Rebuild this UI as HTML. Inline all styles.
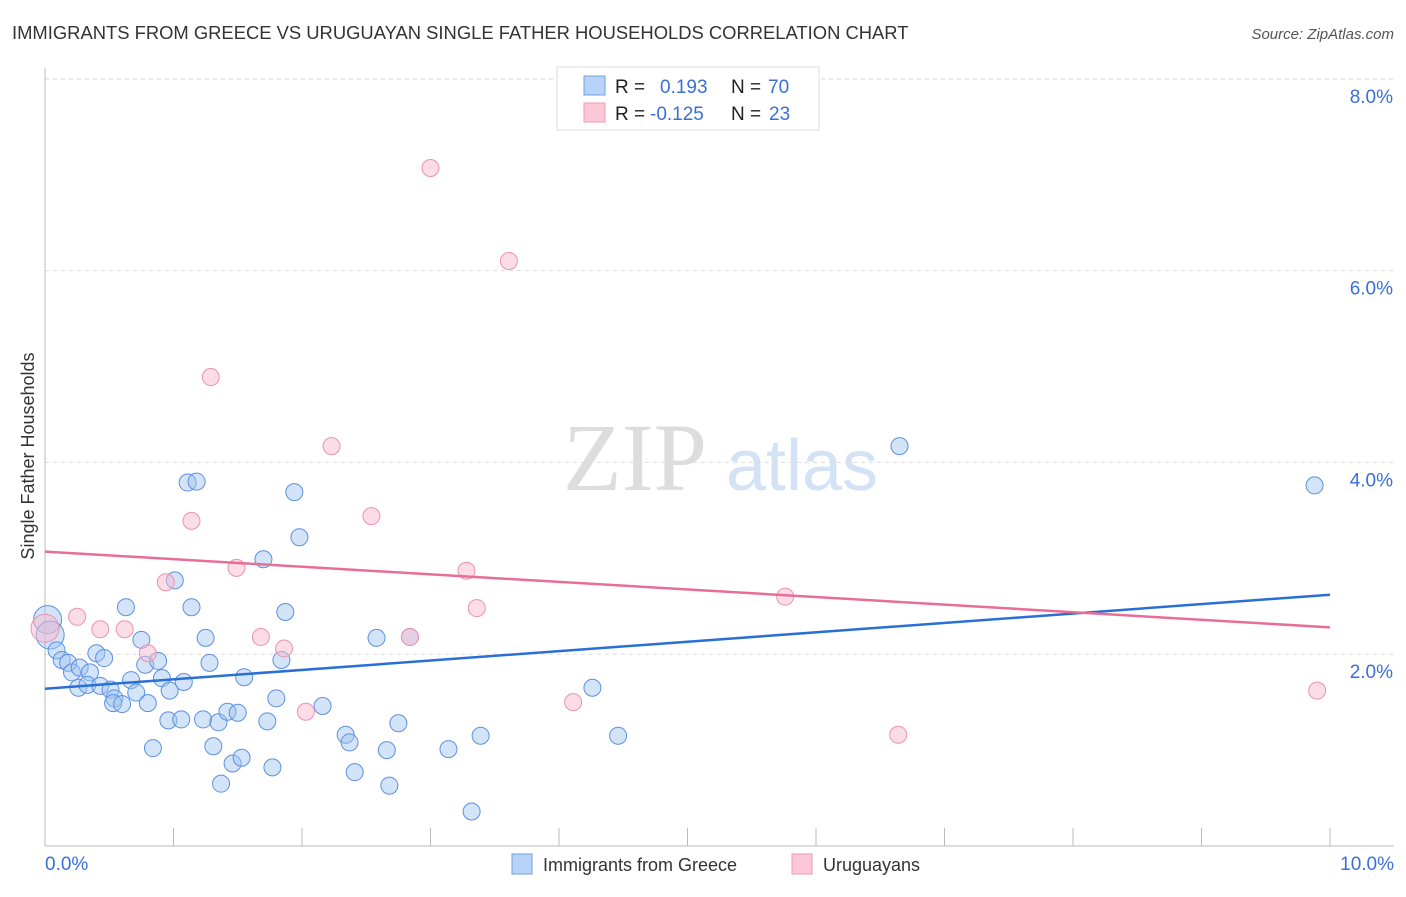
<!DOCTYPE html>
<html><head><meta charset="utf-8"><style>
body{margin:0;background:#fff;font-family:"Liberation Sans",sans-serif}
</style></head><body>
<svg width="1406" height="892" font-family="Liberation Sans, sans-serif">
<text x="12" y="39" font-size="18.4" fill="#333">IMMIGRANTS FROM GREECE VS URUGUAYAN SINGLE FATHER HOUSEHOLDS CORRELATION CHART</text>
<text x="1394" y="39" font-size="15" fill="#555" font-style="italic" text-anchor="end">Source: ZipAtlas.com</text>
<g>
<text x="635" y="490" font-size="96" fill="#ddd" font-family="Liberation Serif, serif" text-anchor="middle">ZIP</text>
<text x="802" y="490" font-size="72" fill="#d4e2f6" text-anchor="middle">atlas</text>
</g>
<g id="grid"></g>
<g id="axes"></g>
<g id="marks"></g>
<text transform="translate(34,456) rotate(-90)" font-size="18" fill="#333" text-anchor="middle">Single Father Households</text>
<g>
<rect x="557" y="67" width="262" height="63" fill="#fff" stroke="#ddd"/>
<rect x="584" y="76" width="21" height="19" fill="#b7d3f7" stroke="#6fa0e6"/>
<rect x="584" y="103" width="21" height="19" fill="#fcc8d7" stroke="#ef9ab4"/>
<text x="615" y="93" font-size="19" fill="#222">R =</text>
<text x="660" y="93" font-size="19" fill="#3a6fd8">0.193</text>
<text x="731" y="93" font-size="19" fill="#222">N =</text>
<text x="768" y="93" font-size="19" fill="#3a6fd8">70</text>
<text x="615" y="120" font-size="19" fill="#222">R =</text>
<text x="650" y="120" font-size="19" fill="#3a6fd8">-0.125</text>
<text x="731" y="120" font-size="19" fill="#222">N =</text>
<text x="769" y="120" font-size="19" fill="#3a6fd8">23</text>
</g>
<g>
<rect x="512" y="854" width="20" height="20" fill="#b7d3f7" stroke="#6fa0e6"/>
<text x="543" y="871" font-size="18" fill="#333">Immigrants from Greece</text>
<rect x="792" y="854" width="20" height="20" fill="#fcc8d7" stroke="#ef9ab4"/>
<text x="823" y="871" font-size="18" fill="#333">Uruguayans</text>
</g>
</svg>
<script>
const blueX=[0.02,0.04,0.09,0.13,0.18,0.21,0.27,0.35,0.26,0.33,0.40,0.46,0.43,0.51,0.54,0.53,0.60,0.63,0.67,0.71,0.75,0.78,0.80,0.84,0.88,0.91,0.96,0.97,1.01,1.06,1.08,1.11,1.18,1.14,1.25,1.28,1.23,1.31,1.37,1.35,1.42,1.46,1.50,1.53,1.55,1.70,1.73,1.77,1.80,1.84,1.87,1.94,1.98,2.16,2.34,2.37,2.41,2.58,2.66,2.68,2.75,2.84,3.14,3.32,3.39,4.26,4.46,6.65,9.88];
const blueY=[2.36,2.20,2.04,1.94,1.91,1.81,1.86,1.81,1.65,1.68,2.01,1.96,1.67,1.63,1.54,1.49,1.48,2.49,1.73,1.60,2.15,1.89,1.49,1.02,1.93,1.75,1.31,1.62,2.77,1.32,1.71,3.79,3.80,2.49,2.17,1.91,1.32,1.04,0.65,1.29,1.40,0.86,1.39,0.92,1.76,2.99,1.30,0.82,1.54,1.94,2.44,3.69,3.22,1.46,1.16,1.08,0.77,2.17,1.00,0.63,1.28,2.18,1.01,0.36,1.15,1.65,1.15,4.17,3.76];
const pinkX=[0.00,0.25,0.43,0.62,0.80,0.94,1.14,1.29,1.49,1.68,1.86,2.03,2.23,2.54,2.84,3.00,3.28,3.36,3.61,4.11,5.76,6.64,9.90];
const pinkY=[2.27,2.39,2.26,2.26,2.01,2.75,3.39,4.89,2.90,2.18,2.06,1.40,4.17,3.44,2.18,7.07,2.87,2.48,6.10,1.50,2.60,1.16,1.62];
const blueTrend=[1.64,2.62];
const pinkTrend=[3.07,2.28];
const yTicks=[2,4,6,8];
const yTickLabels=["2.0%","4.0%","6.0%","8.0%"];
const xTicks=[0,1,2,3,4,5,6,7,8,9,10];
const X0=45,X1=1330,YB=846,YPER=95.9;
const sx=v=>X0+(X1-X0)*v/10;
const sy=v=>YB-v*YPER;
const NS="http://www.w3.org/2000/svg";
function mk(tag,attrs,parent){const e=document.createElementNS(NS,tag);for(const k in attrs)e.setAttribute(k,attrs[k]);parent.appendChild(e);return e;}
const grid=document.getElementById('grid'),axes=document.getElementById('axes'),marks=document.getElementById('marks');
yTicks.forEach((t,i)=>{
 const l=mk('line',{x1:X0,x2:1394,y1:sy(t),y2:sy(t),stroke:'#ddd','stroke-dasharray':'4,4'},grid);
 
 
 const tx=mk('text',{x:1393,y:sy(t)+24,'font-size':19,fill:'#3a6fd8','text-anchor':'end'},axes);
 tx.textContent=yTickLabels[i];
 
 
});
const tl=mk('line',{x1:X0,x2:1394,y1:79,y2:79,stroke:'#ddd','stroke-dasharray':'4,4'},grid);


const ya=mk('line',{x1:X0,x2:X0,y1:68,y2:YB,stroke:'#bbb'},axes);


const xa=mk('line',{x1:X0,x2:1394,y1:YB,y2:YB,stroke:'#bbb'},axes);


xTicks.forEach(t=>{
 const l=mk('line',{x1:sx(t),x2:sx(t),y1:YB-18,y2:YB,stroke:'#bbb'},axes);
 
 
});
const xl0=mk('text',{x:45,y:870,'font-size':19,fill:'#3a6fd8'},axes);xl0.textContent='0.0%';


const xl1=mk('text',{x:1394,y:870,'font-size':19,fill:'#3a6fd8','text-anchor':'end'},axes);xl1.textContent='10.0%';


blueX.forEach((x,i)=>{
 const c=mk('circle',{cx:sx(x),cy:sy(blueY[i]),r:i<2?14:8.5,fill:'rgba(160,196,240,0.45)',stroke:'#5b91e0','stroke-width':1},marks);
 
 
});
pinkX.forEach((x,i)=>{
 const c=mk('circle',{cx:sx(x),cy:sy(pinkY[i]),r:i<1?14:8.5,fill:'rgba(250,185,205,0.5)',stroke:'#ec93ae','stroke-width':1},marks);
 
 
});
const bl=mk('line',{x1:sx(0),x2:sx(10),y1:sy(blueTrend[0]),y2:sy(blueTrend[1]),stroke:'#2a6fd6','stroke-width':2.5},marks);


const pl=mk('line',{x1:sx(0),x2:sx(10),y1:sy(pinkTrend[0]),y2:sy(pinkTrend[1]),stroke:'#e86e98','stroke-width':2.5},marks);


</script>
</body></html>
